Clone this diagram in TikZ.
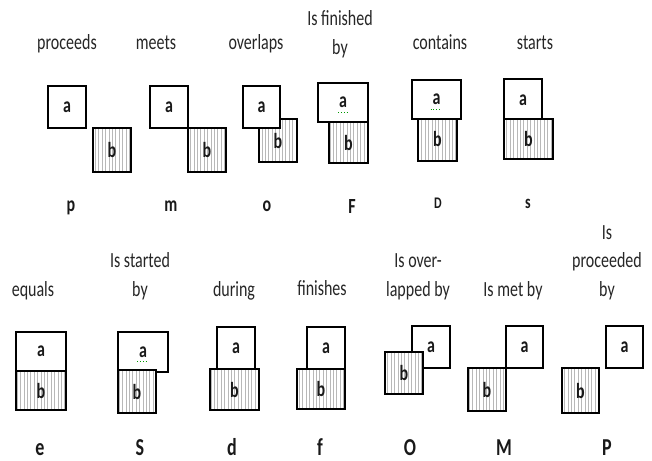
\documentclass[tikz,border=0pt]{standalone}
\usepackage{fontspec}
\setmainfont{Carlito}
\usepackage{tikz}
\usetikzlibrary{patterns.meta}
\newcommand{\talltext}[1]{\scalebox{1}[1.35]{#1}}

\begin{document}
\begin{tikzpicture}[
  x=1pt,y=-1pt,
  ttl/.style={font=\fontsize{16}{21}\selectfont, text=black!85, align=center, anchor=base, inner sep=0pt, yscale=1.35},
  rel/.style={font=\bfseries\fontsize{16}{16}\selectfont, text=black!90, anchor=base, inner sep=0pt, yscale=1.35},
  relbig/.style={rel, font=\bfseries\fontsize{18}{18}\selectfont},
  abox/.style={draw, line width=1.8pt, fill=white, inner sep=0pt, text=black!90, font=\bfseries\fontsize{16}{16}\selectfont},
  bbox/.style={abox, preaction={fill=white}, pattern={Lines[angle=90,distance=3.4pt,line width=0.4pt]}, pattern color=black!28},
  spell/.style={dotted, line width=0.9pt, color=green!60!black},
]
\useasboundingbox (0,0) rectangle (652,460);

% row 1: relation names (multi-line names sit on their last line)
\node[ttl] (tp) at (67,49) {proceeds};
\node[ttl] (tm) at (156,49) {meets};
\node[ttl] (to) at (256,49) {overlaps};
\node[ttl] (tF) at (340,54) {Is finished\\by};
\node[ttl] (tD) at (440,49) {contains};
\node[ttl] (ts) at (535,49) {starts};
% row 1: boxes
\node[abox,minimum width=38,minimum height=42] (pa) at (67,107) {\talltext{a}};
\node[bbox,minimum width=38,minimum height=44] (pb) at (112,150) {\talltext{b}};
\node[abox,minimum width=38,minimum height=42] (ma) at (169,107) {\talltext{a}};
\node[bbox,minimum width=38,minimum height=44] (mb) at (207,150) {\talltext{b}};
\node[bbox,minimum width=38,minimum height=43] (ob) at (278,140.5) {\talltext{b}};
\node[abox,minimum width=37,minimum height=42] (oa) at (261.5,107) {\talltext{a}};
\node[bbox,minimum width=39,minimum height=41] (Fb) at (348.5,142.5) {\talltext{b}};
\node[abox,minimum width=50,minimum height=39] (Fa) at (343,102.5) {\talltext{a}};
\node[bbox,minimum width=39,minimum height=44] (Db) at (437.5,139) {\talltext{b}};
\node[abox,minimum width=49,minimum height=39] (Da) at (436.5,99.5) {\talltext{a}};
\node[abox,minimum width=38,minimum height=42] (sa) at (523,100) {\talltext{a}};
\node[bbox,minimum width=49,minimum height=40] (sb) at (528.5,139) {\talltext{b}};
\draw[spell] ([xshift=-5pt,yshift=-9.5pt]Fa.center) -- ([xshift=5pt,yshift=-9.5pt]Fa.center);
\draw[spell] ([xshift=-6pt,yshift=-9.5pt]Da.center) -- ([xshift=4pt,yshift=-9.5pt]Da.center);
% row 1: symbols
\node[rel] (lp) at (71,211) {p};
\node[rel] (lm) at (171,211) {m};
\node[rel] (lo) at (267,211) {o};
\node[rel] (lF) at (352,213) {F};
\node[rel,font=\bfseries\fontsize{12}{12}\selectfont] (lD) at (438,208) {D};
\node[rel,font=\bfseries\fontsize{14}{14}\selectfont] (ls) at (528,208) {s};

% row 2: relation names
\node[ttl] (te) at (33,296) {equals};
\node[ttl] (tS) at (140,296) {Is started\\by};
\node[ttl] (td) at (234,296) {during};
\node[ttl] (tf) at (322,295) {finishes};
\node[ttl] (tO) at (418,296) {Is over-\\lapped by};
\node[ttl] (tM) at (513,296) {Is met by};
\node[ttl] (tP) at (607,296) {Is\\proceeded\\by};
% row 2: boxes
\node[abox,minimum width=50,minimum height=39] (ea) at (41,351.5) {\talltext{a}};
\node[bbox,minimum width=50,minimum height=39] (eb) at (41,390.5) {\talltext{b}};
\node[abox,minimum width=50,minimum height=40] (Sa) at (143,352) {\talltext{a}};
\node[bbox,minimum width=38,minimum height=43] (Sb) at (137,391.5) {\talltext{b}};
\node[abox,minimum width=38,minimum height=42] (da) at (236,348) {\talltext{a}};
\node[bbox,minimum width=49,minimum height=41] (db) at (234.5,389.5) {\talltext{b}};
\node[abox,minimum width=38,minimum height=42] (fa) at (326,348) {\talltext{a}};
\node[bbox,minimum width=48,minimum height=40] (fb) at (321,389) {\talltext{b}};
\node[abox,minimum width=38,minimum height=42] (Oa) at (431,347) {\talltext{a}};
\node[bbox,minimum width=38,minimum height=42] (Ob) at (404,373) {\talltext{b}};
\node[abox,minimum width=37,minimum height=42] (Ma) at (524.5,347) {\talltext{a}};
\node[bbox,minimum width=38,minimum height=43] (Mb) at (487,389.5) {\talltext{b}};
\node[abox,minimum width=37,minimum height=42] (Pa) at (624.5,347) {\talltext{a}};
\node[bbox,minimum width=37,minimum height=45] (Pb) at (580.5,390.5) {\talltext{b}};
\draw[spell] ([xshift=-6pt,yshift=-9pt]Sa.center) -- ([xshift=4pt,yshift=-9pt]Sa.center);
% row 2: symbols
\node[relbig] (le) at (40,455) {e};
\node[relbig] (lS) at (140,455) {S};
\node[relbig] (ld) at (232,455) {d};
\node[relbig] (lf) at (320,455) {f};
\node[relbig] (lO) at (410,455) {O};
\node[relbig] (lM) at (504,455) {M};
\node[relbig] (lP) at (607,455) {P};

\end{tikzpicture}
\end{document}
